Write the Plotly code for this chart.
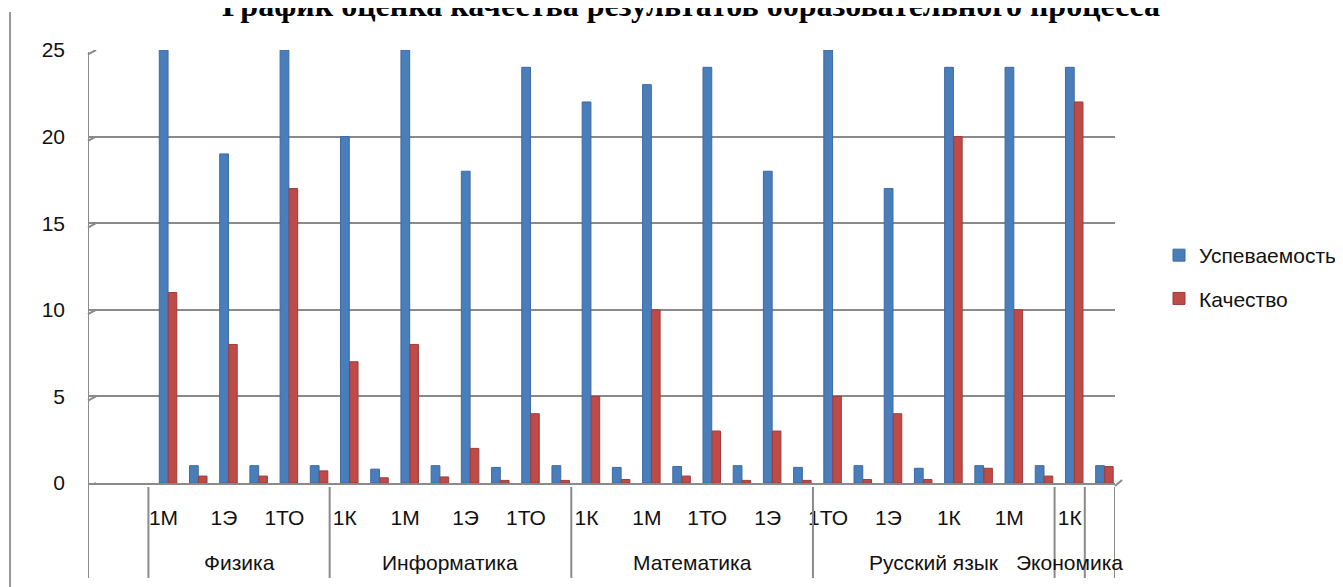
import plotly.graph_objects as go

# ---------------- data ----------------
group_names = ["", "Физика", "Информатика", "Математика", "Русский язык", "Экономика", ""]
group_sizes = [2, 6, 8, 8, 8, 1, 1]

# inner category labels (every other label is skipped by the axis, shown as blank)
categories = ["", "",
              "1М", "", "1Э", "", "1ТО", "",
              "1К", "", "1М", "", "1Э", "", "1ТО", "",
              "1К", "", "1М", "", "1ТО", "", "1Э", "",
              "1ТО", "", "1Э", "", "1К", "", "1М", "",
              "1К", ""]

uspevaemost = [None, None,
               25, 1, 19, 1, 25, 1,
               20, 0.8, 25, 1, 18, 0.9, 24, 1,
               22, 0.9, 23, 0.95, 24, 1, 18, 0.9,
               25, 1, 17, 0.85, 24, 1, 24, 1,
               24, 1]
kachestvo = [None, None,
             11, 0.4, 8, 0.4, 17, 0.7,
             7, 0.3, 8, 0.35, 2, 0.15, 4, 0.15,
             5, 0.2, 10, 0.4, 3, 0.15, 3, 0.15,
             5, 0.2, 4, 0.2, 20, 0.85, 10, 0.4,
             22, 0.95]

y_ticks = [0, 5, 10, 15, 20, 25]
title_text = "График оценка качества результатов образовательного процесса"
series_names = ["Успеваемость", "Качество"]

# ---------------- layout geometry (screen pixels) ----------------
OFF = 8                      # default page margin of the html body
W_SCREEN, H_SCREEN = 1343, 587
W_FIG, H_FIG = W_SCREEN - OFF, H_SCREEN - OFF
L, R_EDGE, T, B = 88, 1115, 50, 483      # plot area in screen pixels
PW, PH = R_EDGE - L, B - T


def pxx(px):
    return (px - L) / PW


def pxy(py):
    return (B - py) / PH


FONT = "Liberation Sans"
GRID = "#8a8a8a"
x_idx = list(range(len(categories)))

fig = go.Figure()
fig.add_trace(go.Bar(
    x=x_idx, y=uspevaemost, name=series_names[0],
    marker=dict(color="#4A7EBB", line=dict(color="#3D6AA3", width=1)),
    width=0.29, offset=-0.14, legendgroup="a",
))
fig.add_trace(go.Bar(
    x=x_idx, y=kachestvo, name=series_names[1],
    marker=dict(color="#BE4B48", line=dict(color="#9F3B39", width=1)),
    width=0.28, offset=0.16, legendgroup="b",
))

shapes = []
# outer chart border line at left
shapes.append(dict(type="line", xref="paper", yref="paper",
                   x0=pxx(10), x1=pxx(10), y0=pxy(12), y1=pxy(590),
                   line=dict(color="#9a9a9a", width=2)))
# left wall / first divider
shapes.append(dict(type="line", xref="x", yref="paper",
                   x0=-0.5, x1=-0.5, y0=pxy(52), y1=pxy(578),
                   line=dict(color=GRID, width=2)))
# group dividers in the category table
pos = -0.5
for s in group_sizes:
    pos += s
    shapes.append(dict(type="line", xref="x", yref="paper",
                       x0=pos, x1=pos, y0=pxy(487), y1=pxy(578),
                       line=dict(color=GRID, width=2)))
# small 3D diagonals at the left end of each gridline
for v in y_ticks:
    shapes.append(dict(type="line", xref="paper", yref="y",
                       x0=0, x1=pxx(L + 8), y0=v - 0.25, y1=v,
                       line=dict(color=GRID, width=2)))
# 3D diagonal at the right end of the floor
shapes.append(dict(type="line", xref="paper", yref="paper",
                   x0=1, x1=pxx(R_EDGE + 7), y0=pxy(486), y1=pxy(480),
                   line=dict(color=GRID, width=2)))

annotations = []
# outer (group) labels
start = -0.5
for name, s in zip(group_names, group_sizes):
    center = start + s / 2
    start += s
    if name:
        annotations.append(dict(x=center, y=pxy(562), xref="x", yref="paper",
                                text=name, showarrow=False, xanchor="center",
                                yanchor="middle",
                                font=dict(family=FONT, size=21, color="#111")))
# title (partly cut off at the top, as in the original)
annotations.append(dict(x=pxx(690.5), y=pxy(25), xref="paper", yref="paper",
                        text="<b>" + title_text + "</b>", showarrow=False,
                        xanchor="center", yanchor="bottom",
                        font=dict(family="Liberation Serif", size=32, color="#000")))

fig.update_layout(
    width=W_FIG, height=H_FIG,
    margin=dict(l=L - OFF, r=W_FIG - (R_EDGE - OFF), t=T - OFF,
                b=H_FIG - (B - OFF), pad=0, autoexpand=False),
    paper_bgcolor="white", plot_bgcolor="white",
    barmode="overlay",
    showlegend=True,
    legend=dict(x=pxx(1159), y=pxy(277), xanchor="left", yanchor="middle",
                font=dict(family=FONT, size=21, color="#111"),
                tracegroupgap=13, traceorder="grouped",
                bgcolor="rgba(0,0,0,0)"),
    xaxis=dict(range=[-0.5, len(categories) - 0.5],
               tickmode="array", tickvals=x_idx, ticktext=categories,
               tickangle=0, showgrid=False, zeroline=False,
               showline=True, linecolor=GRID, linewidth=2,
               ticks="", ticklabelstandoff=15,
               tickfont=dict(family=FONT, size=21, color="#111")),
    yaxis=dict(range=[0, 25], tickvals=y_ticks,
               showgrid=True, gridcolor=GRID, gridwidth=2,
               zeroline=False, showline=False, ticks="",
               ticklabelstandoff=22,
               tickfont=dict(family=FONT, size=21, color="#111")),
    shapes=shapes,
    annotations=annotations,
)

fig.write_html("out.html")
